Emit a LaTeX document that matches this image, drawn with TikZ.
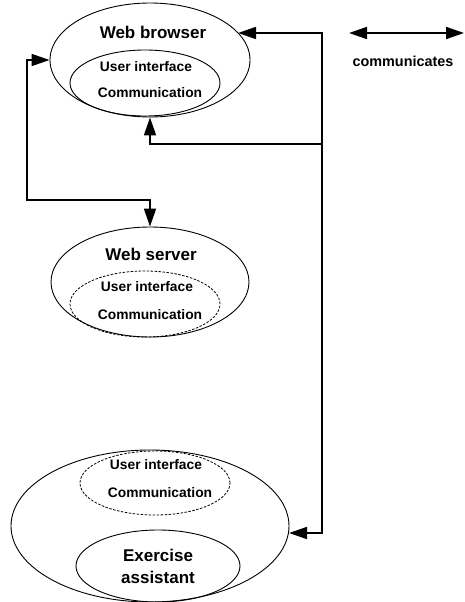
\documentclass[tikz,border=0pt]{standalone}
\usepackage{fontspec}
\setmainfont{Liberation Sans}
\usetikzlibrary{shapes.geometric,arrows.meta}
\begin{document}
\begin{tikzpicture}[x=1pt,y=-1pt,
    oval/.style={draw,ellipse,line width=0.9pt,inner sep=0pt},
    part/.style={oval,dash pattern=on 2.5pt off 1.5pt,line width=0.8pt},
    big/.style={font=\fontsize{17}{19}\selectfont\bfseries},
    small/.style={font=\fontsize{13.8}{16}\selectfont\bfseries},
    link/.style={line width=1.7pt},
    >={Triangle[length=18pt,width=12pt]}]
  \useasboundingbox (0,0) rectangle (465,602);
  % web browser
  \node[oval,minimum width=200pt,minimum height=114pt] (wb) at (150,60) {};
  \node[oval,minimum width=150pt,minimum height=66pt] (wbi) at (145,83) {};
  \node[big] (wbt) at (153,32) {Web browser};
  \node[small] (wbu) at (146,67) {User interface}; \node[small] (wbc) at (150,93) {Communication};
  % web server
  \node[oval,minimum width=198pt,minimum height=110pt] (ws) at (150,282) {};
  \node[part,minimum width=150pt,minimum height=66pt] (wsi) at (145,304) {};
  \node[big] (wst) at (151,254) {Web server};
  \node[small] (wsu) at (147,287) {User interface}; \node[small] (wsc) at (150,315) {Communication};
  % exercise assistant
  \node[oval,minimum width=278pt,minimum height=152pt] (ea) at (150,526) {};
  \node[part,minimum width=150pt,minimum height=64pt] (eai) at (155,483) {};
  \node[oval,minimum width=164pt,minimum height=72pt] (eac) at (158,566) {};
  \node[small] (eau) at (156,465) {User interface}; \node[small] (eam) at (160,493) {Communication};
  \node[big] (eat) at (158,555) {Exercise}; \node[big] (eas) at (158,577) {assistant};
  % connectors
  \coordinate (wbR) at (238,33); \coordinate (tr) at (322,533); \coordinate (eaR) at (289,533);
  \coordinate (br) at (322,144); \coordinate (lc) at (27,200);
  \draw[link,<->] (wbR) -| (tr) -- (eaR);
  \draw[link,->] (br) -| (wb.south);
  \draw[link,<->] (wb.west) -| (lc) -| (ws.north);
  % legend
  \coordinate (la) at (349,33); \coordinate (lb) at (464,33);
  \draw[link,<->] (la) -- (lb);
  \node[font=\fontsize{14.4}{16}\selectfont\bfseries] (lt) at (403,61) {communicates};
\end{tikzpicture}
\end{document}
